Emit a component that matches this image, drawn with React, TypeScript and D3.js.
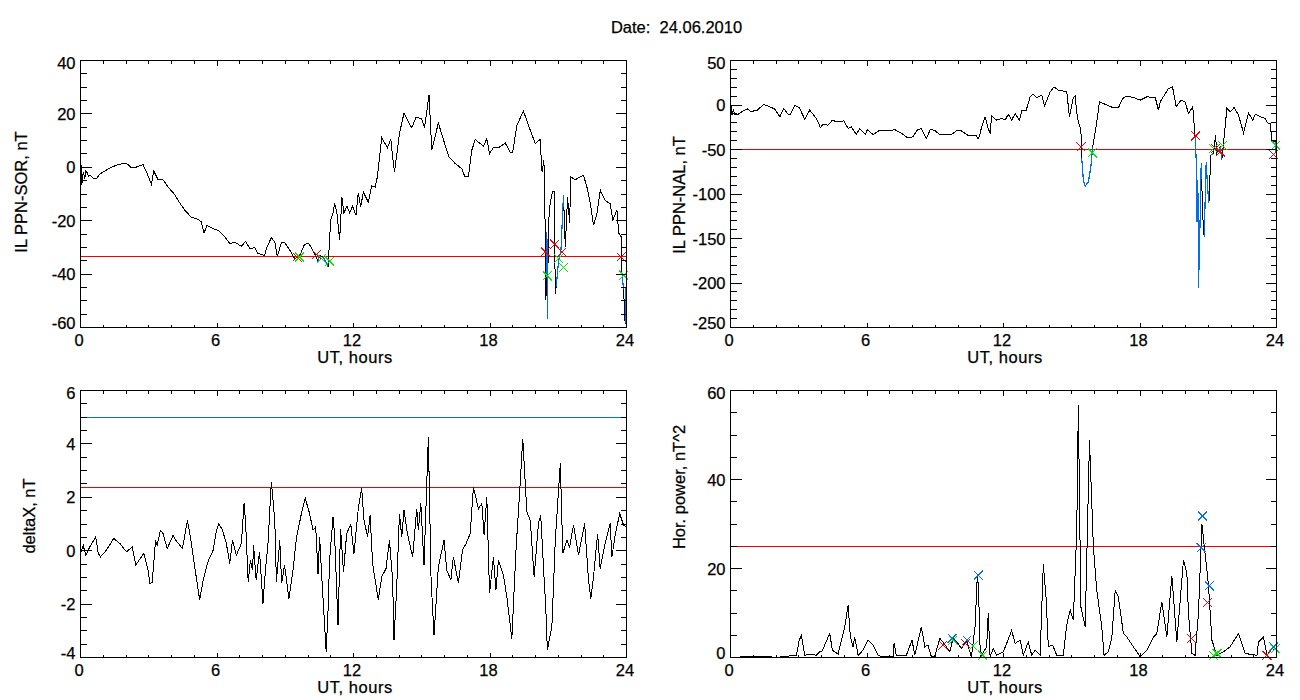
import * as d3 from 'd3'
import { useEffect, useRef } from 'react'

const xTickValues = [0, 6, 12, 18, 24]
const xMinorValues = d3.range(0, 25, 1).filter(h => h % 6 !== 0)

// IL PPN-SOR
const sorT = [0, .02, .04, .07, .12, .19, .23, .29, .35, .41, .56, .7, .85, 1.14, 1.43, 1.73, 2.02, 2.24, 2.46, 2.75, 2.9, 3.12, 3.22, 3.41, 3.63, 3.85, 4.14, 4.36, 4.58, 4.88, 5.1, 5.31, 5.43, 5.56, 5.83, 6.05, 6.34, 6.56, 6.78, 7.07, 7.26, 7.44, 7.66, 7.8, 8.1, 8.17, 8.39, 8.54, 8.65, 8.83, 8.97, 9.2, 9.41, 9.63, 9.85, 10.04, 10.29, 10.44, 10.5, 10.66, 10.88, 11, 11.1, 11.17, 11.27, 11.39, 11.49, 11.58, 11.71, 11.83, 11.96, 12.11, 12.21, 12.32, 12.43, 12.65, 12.8, 12.95, 13.05, 13.24, 13.49, 13.64, 13.72, 13.8, 13.9, 14.02, 14.22, 14.34, 14.56, 14.75, 15, 15.12, 15.32, 15.44, 15.73, 15.95, 16.2, 16.47, 16.76, 16.9, 17.05, 17.2, 17.35, 17.71, 17.86, 17.98, 18.15, 18.42, 18.67, 18.89, 19, 19.18, 19.47, 19.69, 19.99, 20.2, 20.29, 20.37, 20.43, 20.46, 20.5, 20.52, 20.57, 20.62, 20.75, 20.82, 20.87, 20.91, 21.01, 21.12, 21.23, 21.31, 21.41, 21.5, 21.55, 21.75, 22.11, 22.26, 22.41, 22.55, 22.7, 22.85, 23.06, 23.28, 23.4, 23.58, 23.66, 23.77, 23.8, 23.87, 23.94, 24]
const sorV = [-1, -8, 1, -6, -1.7, -4.2, -1.5, -2, -3.5, -3, -4, -4.2, -2.5, -1, .3, 1.2, 1.5, -.2, .1, 1, -1.7, -6.4, -1.4, -4.6, -4.7, -7.4, -10.2, -13.3, -16, -18.8, -19.2, -20.4, -24.6, -21.8, -23, -23.6, -26, -28.6, -28, -29.6, -27.7, -30.5, -30.1, -32.3, -33, -30.5, -26.3, -28, -33.3, -28.3, -28.1, -31, -34.2, -33.3, -28.8, -28.6, -32.3, -35.4, -33, -33.5, -37.2, -19.7, -17, -13.5, -17.2, -27.3, -11.1, -17.2, -14.5, -17, -14.6, -18, -9.6, -14.8, -9.3, -13, -7, -7.4, -3.6, 11.1, 7.4, 10.4, 3.9, -1.7, 4.5, 12.6, 20.3, 18.2, 14.8, 18.8, 18.2, 14.8, 27, 6.4, 16.6, 10.4, 3.9, 1.4, -.5, -3.6, -3.6, 6.4, 10.4, 7.9, 10.7, 5.1, 7.4, 7.6, 9.1, 5.7, 5.7, 15.7, 21.1, 15.7, 8.9, 10.4, -1.7, 2.7, -24.7, -49.8, -24.2, -56.7, -22.3, -14.8, -8.9, -8.9, -47.3, -44.8, -35.4, -31, -10.4, -29.8, -11.1, -21, -3.6, -4.6, -3, -7.4, -13.6, -21.7, -17.4, -8.6, -12.4, -13.6, -19.8, -16, -24.7, -26, -39.8, -45.4, -58.5, -40]
const sorBlue = [[10.4, 10.5], [10.6, 10.9], [20.5, 20.55], [20.91, 21.25], [23.8, 23.87], [23.94, 24]]
const sorRedT = [9.52, 10.37, 20.43, 20.84, 21.16, 23.77]
const sorRedV = [-33.6, -32.6, -31.7, -28.8, -31.7, -33.6]
const sorGreenT = [9.63, 10.59, 10.95, 20.52, 21.01, 21.23, 23.87]
const sorGreenV = [-33.6, -34.2, -35.2, -40.7, -34.2, -37.6, -40.4]

// IL PPN-NAL
const nalT = [0, .01, .03, .06, .12, .19, .34, .56, .73, .88, 1.14, 1.46, 1.65, 1.95, 2.17, 2.34, 2.53, 2.64, 2.83, 3.02, 3.27, 3.48, 3.7, 3.81, 3.95, 4.07, 4.29, 4.48, 4.66, 4.98, 5.17, 5.31, 5.53, 5.68, 5.94, 6, 6.27, 6.56, 7, 7.22, 7.51, 7.77, 8.02, 8.2, 8.39, 8.61, 8.78, 8.97, 9.19, 9.71, 9.96, 10.15, 10.44, 10.81, 10.88, 10.95, 11.04, 11.19, 11.33, 11.41, 11.48, 11.7, 11.92, 12.07, 12.21, 12.36, 12.51, 12.7, 12.8, 12.99, 13.17, 13.31, 13.46, 13.68, 13.8, 14.05, 14.22, 14.41, 14.78, 14.9, 15.07, 15.15, 15.25, 15.4, 15.44, 15.51, 15.59, 15.73, 15.84, 15.92, 16.07, 16.22, 16.39, 16.83, 17.05, 17.24, 17.42, 17.71, 18.01, 18.3, 18.67, 18.81, 18.89, 19.25, 19.43, 19.59, 19.8, 19.98, 20.13, 20.32, 20.42, 20.5, 20.51, 20.56, 20.57, 20.65, 20.69, 20.76, 20.82, 20.91, 20.97, 21.03, 21.11, 21.23, 21.32, 21.38, 21.52, 21.6, 21.67, 21.82, 21.96, 22.14, 22.33, 22.55, 22.77, 22.96, 23.07, 23.29, 23.5, 23.6, 23.72, 23.8, 23.94, 24]
const nalV = [1.7, -11.4, 0, -11.4, -5.8, -10.3, -10.3, -6.6, -4.3, -6.9, -6.6, .6, -1, -4.7, -13.3, -3.9, -10.3, -10.3, -.6, -2.8, -16.3, -5.8, -12.5, -17, -25.3, -21.5, -22.7, -17, -18.9, -17.8, -26.4, -24.5, -33.2, -26.4, -33, -27.7, -33.2, -28.3, -29.2, -27.7, -31.5, -36.6, -35.8, -28.3, -26.4, -37.6, -27.7, -28.3, -33.2, -33.2, -28.3, -29.2, -34.1, -34.1, -38.6, -34.1, -24.5, -13.3, -26.4, -32, -12.5, -17, -15.2, -17, -10.3, -17, -9.6, -17, -6.6, -6.6, 9.2, 12.2, 8.4, 11, -1.3, 14.8, 20.4, 16.7, 14.8, -13.3, 8.4, 9.9, -15.2, -27.5, -60, -84.5, -91.2, -86.3, -69.5, -47, -24.5, 3.6, 1.7, -3.2, -3.2, 7.3, 9.9, 8.4, 5.4, 9.2, 8.4, -5.8, 3.6, 18.5, 20.4, -2, 5.4, 3.6, -9.6, -2, -35.8, -76.9, -131, -98.7, -206, -121, -65, -126, -148, -64, -92, -110.6, -56.4, -54.5, -33.9, -54.5, -47, -61.2, -43.3, -3.9, -7.7, -2.8, -11.4, -31.3, -8.8, -17, -10.3, -13.3, -15.2, -20, -20.8, -39.5, -41.4, -58]
const nalBlue = [[15.44, 15.92], [20.42, 20.51], [20.56, 20.69], [20.82, 21.03], [21.11, 21.25], [21.5, 21.65], [23.94, 24]]
const nalRedT = [15.41, 20.45, 21.33, 21.53, 23.87]
const nalRedV = [-47, -34.6, -48.9, -52.6, -55.6]
const nalGreenT = [15.91, 21.23, 21.63, 23.97]
const nalGreenV = [-53.7, -48.9, -45.5, -45.1]

// deltaX
const dxT = [0, .12, .23, .41, .67, .78, .88, 1.14, 1.46, 1.73, 2.02, 2.27, 2.43, 2.78, 2.97, 3.05, 3.15, 3.3, 3.37, 3.51, 3.63, 3.81, 4.07, 4.19, 4.48, 4.7, 4.83, 5.02, 5.24, 5.39, 5.6, 5.83, 5.97, 6.08, 6.24, 6.41, 6.56, 6.68, 6.85, 7.07, 7.19, 7.26, 7.37, 7.47, 7.56, 7.61, 7.72, 7.87, 8.02, 8.13, 8.24, 8.39, 8.54, 8.61, 8.76, 8.84, 8.97, 9.16, 9.34, 9.49, 9.71, 9.88, 10.07, 10.22, 10.34, 10.44, 10.51, 10.63, 10.8, 10.88, 10.95, 11.1, 11.17, 11.32, 11.43, 11.56, 11.7, 11.88, 12.02, 12.21, 12.36, 12.46, 12.62, 12.73, 12.84, 13.09, 13.24, 13.43, 13.58, 13.72, 13.78, 13.9, 14.02, 14.12, 14.22, 14.37, 14.6, 14.78, 14.85, 14.96, 15.1, 15.29, 15.41, 15.54, 15.73, 15.98, 16.1, 16.28, 16.39, 16.61, 16.79, 16.95, 17.13, 17.27, 17.49, 17.64, 17.74, 17.86, 17.98, 18.15, 18.26, 18.37, 18.59, 18.74, 18.96, 19.15, 19.3, 19.44, 19.62, 19.77, 19.94, 20.13, 20.23, 20.35, 20.45, 20.52, 20.72, 20.87, 21.09, 21.2, 21.38, 21.5, 21.67, 21.89, 22.16, 22.33, 22.43, 22.55, 22.73, 22.84, 23.06, 23.28, 23.36, 23.5, 23.7, 23.87, 24]
const dxV = [-.1, .2, -.17, .14, .52, -.1, -.23, .02, .46, .27, -.04, .14, -.54, -.1, -.73, -1.22, -1.2, .39, .2, .77, .64, .08, .58, .39, .08, 1.14, .52, -.6, -1.85, -1.1, -.42, .02, .71, 1.02, .77, .27, -.48, .39, -.17, .27, 1.77, 1.02, -1.16, -.36, -.73, .2, -1.1, -.04, -1.98, -.73, .27, 2.58, 1.14, -1.16, .39, -1.22, -.54, -1.79, -.73, .46, 1.39, 1.96, 1.39, .77, .89, -.86, .52, -1.35, -3.79, -2.23, -.35, 1.27, .58, -2.79, .83, -.79, .64, .99, -.11, 1.57, 2.33, 1.14, .52, 1.33, -.48, -1.85, -.98, -.67, .39, -1.1, -3.35, -1.35, 1.39, .52, 1.52, .64, -.23, 1.57, .77, 1.77, -.54, 4.27, -1.1, -3.17, -.6, .39, -.73, -1.1, -.23, -1.22, .02, .27, .64, 2.39, 1.57, 1.77, .58, 2.02, -1.6, -.23, -1.48, -.35, -.92, -1.73, -3.29, .14, 2.14, 4.2, 1.46, 1.14, -.98, 1.02, 1.33, -.6, -2.1, -3.72, -2.85, .39, 3.27, -.1, .39, .14, .96, -.17, 1.02, -1.1, -1.8, -.98, .64, -.67, .27, 1.02, -.23, .58, 1.39, .96, .89]
const dxLevels = [5, 2.37]

// Hor. power
const powT = [0, .56, .73, 1, 1.66, 2, 2.52, 2.9, 3.02, 3.12, 3.26, 3.44, 3.78, 3.92, 4.04, 4.17, 4.36, 4.48, 4.73, 4.88, 5.02, 5.17, 5.27, 5.39, 5.46, 5.61, 5.83, 6.05, 6.27, 6.49, 6.7, 7.15, 7.19, 7.29, 7.73, 7.98, 8.1, 8.39, 8.54, 8.68, 8.83, 8.97, 9.2, 9.34, 9.64, 9.78, 10, 10.15, 10.37, 10.59, 10.75, 10.85, 10.9, 10.97, 11.04, 11.26, 11.33, 11.41, 11.55, 11.7, 11.99, 12.14, 12.36, 12.51, 12.73, 12.87, 13.09, 13.24, 13.39, 13.61, 13.75, 13.87, 13.97, 14.16, 14.34, 14.63, 14.78, 14.93, 15.07, 15.22, 15.29, 15.4, 15.59, 15.78, 15.95, 16.1, 16.32, 16.42, 16.61, 16.76, 16.91, 17.05, 17.27, 17.42, 17.71, 18.01, 18.3, 18.59, 18.74, 18.96, 19.18, 19.4, 19.62, 19.91, 20.06, 20.13, 20.28, 20.42, 20.57, 20.72, 20.86, 21.01, 21.16, 21.38, 21.67, 21.96, 22.33, 22.62, 23.14, 23.21, 23.43, 23.58, 23.8, 24]
const powV = [0, .15, .22, .3, .22, 0, .3, .5, 3.9, 5, .5, .75, .5, 1.3, 1.5, 3.15, 5.4, 1.65, .75, 3.9, 6.9, 11.7, 4.6, 2.4, 4.6, .5, 1.65, 3.9, 2.8, .5, .15, .15, 3.15, .5, .5, 3.9, .5, 6.9, 2.4, 2.8, .15, .15, 4.3, 3.5, 1.3, 4.3, 3.15, 2.03, 3.9, .15, 6.9, 18.5, 15.9, 2.4, .5, 2.4, 9.9, .15, 2.03, .5, 1.27, 3.15, 6.1, 3.15, 3.9, .5, 3.5, .5, 1.65, .5, 20.9, 13.6, 2.4, 2.8, .5, .5, 7.3, 10.7, 8.4, 28.6, 56.7, 11.4, 6.9, 48.8, 24.9, 15.1, 6.9, .5, 1.27, 4.3, 15.1, 13.6, 5.4, 4.6, 2.4, .15, 1.65, 4.6, 5.4, 12.5, 4.6, 18.4, 3.5, 21.9, 18.9, 9.9, .9, .5, 9.9, 30.1, 23.4, 16.3, 3.9, .5, 1.27, 2.4, 5.4, .9, .5, 3.5, 4.6, .5, 2.03, 1.65]
const powRedT = [9.34, 10.34, 20.26, 20.97, 23.58]
const powRedV = [2.8, 3.15, 4.3, 12.4, .5]
const powGreenT = [9.78, 10.66, 11.08, 21.23, 21.38, 23.94]
const powGreenV = [3.9, 2.6, .5, .5, .9, 2]
const powBlueT = [9.74, 10.4, 10.89, 20.75, 20.69, 21.05, 23.87]
const powBlueV = [4.3, 3.9, 18.5, 31.8, 24.7, 16.1, 2.4]

const RED = '#f00000'
const GREEN = '#00e600'
const BLUE = '#0070e8'

type Marks = { t: number[]; v: number[]; color: string }
type Panel = {
  left: number; right: number; top: number; bottom: number
  domain: [number, number]; major: number[]; minor: number[]
  label: string; labelX: number; labelY: number
  t: number[]; v: number[]; blue: number[][]
  levels: { v: number; color: string }[]
  marks: Marks[]
}

const panels: Panel[] = [
  {
    left: 80.5, right: 626.5, top: 60.5, bottom: 327.5,
    domain: [-60, 40], major: d3.range(-60, 41, 20), minor: d3.range(-60, 41, 5),
    label: 'IL PPN-SOR, nT', labelX: 27, labelY: 192,
    t: sorT, v: sorV, blue: sorBlue,
    levels: [{ v: -33.5, color: RED }],
    marks: [
      { t: sorRedT, v: sorRedV, color: RED },
      { t: sorGreenT, v: sorGreenV, color: GREEN },
    ],
  },
  {
    left: 730.5, right: 1276.5, top: 60.5, bottom: 327.5,
    domain: [-250, 50], major: d3.range(-250, 51, 50), minor: d3.range(-250, 51, 10),
    label: 'IL PPN-NAL, nT', labelX: 685, labelY: 195,
    t: nalT, v: nalV, blue: nalBlue,
    levels: [{ v: -50.4, color: RED }],
    marks: [
      { t: nalRedT, v: nalRedV, color: RED },
      { t: nalGreenT, v: nalGreenV, color: GREEN },
    ],
  },
  {
    left: 80.5, right: 626.5, top: 390.5, bottom: 657.5,
    domain: [-4, 6], major: d3.range(-4, 7, 2), minor: d3.range(-4, 6.1, .5),
    label: 'deltaX, nT', labelX: 35, labelY: 516,
    t: dxT, v: dxV, blue: [],
    levels: [{ v: dxLevels[0], color: BLUE }, { v: dxLevels[1], color: RED }],
    marks: [],
  },
  {
    left: 730.5, right: 1276.5, top: 390.5, bottom: 657.5,
    domain: [0, 60], major: d3.range(0, 61, 20), minor: d3.range(0, 61, 5),
    label: 'Hor. power, nT^2', labelX: 685, labelY: 487,
    t: powT, v: powV, blue: [],
    levels: [{ v: 24.9, color: RED }],
    marks: [
      { t: powRedT, v: powRedV, color: RED },
      { t: powGreenT, v: powGreenV, color: GREEN },
      { t: powBlueT, v: powBlueV, color: BLUE },
    ],
  },
]

const W = 1300
const H = 700
const FONT = '"Liberation Sans", Arial, sans-serif'
const FONT_SIZE = 16.5

export default function App() {
  const ref = useRef<SVGSVGElement | null>(null)

  useEffect(() => {
    if (!ref.current) return
    const svg = d3.select(ref.current)
    svg.selectAll('*').remove()

    svg.append('text')
      .attr('x', 676.5).attr('y', 33).attr('text-anchor', 'middle')
      .attr('font-size', FONT_SIZE).attr('stroke-width', .25).attr('stroke', '#000')
      .style('white-space', 'pre')
      .text('Date:  24.06.2010')

    for (const p of panels) {
      const x = d3.scaleLinear().domain([0, 24]).range([p.left, p.right])
      const y = d3.scaleLinear().domain(p.domain).range([p.bottom, p.top])
      const g = svg.append('g')

      // levels go under the curve
      for (const l of p.levels) {
        g.append('line')
          .attr('x1', p.left).attr('x2', p.right)
          .attr('y1', Math.floor(y(l.v)) + .5).attr('y2', Math.floor(y(l.v)) + .5)
          .attr('stroke', l.color).attr('shape-rendering', 'crispEdges')
      }

      const pts = p.t.map((t, i) => [t, p.v[i]] as [number, number])
      const line = d3.line<[number, number]>().x(d => x(d[0])).y(d => y(d[1]))
      g.append('path')
        .attr('d', line(pts))
        .attr('fill', 'none').attr('stroke', '#000').attr('stroke-width', 1)
        .attr('shape-rendering', 'crispEdges')

      for (const [a, b] of p.blue) {
        g.append('path')
          .attr('d', line(pts.filter(d => d[0] >= a && d[0] <= b)))
          .attr('fill', 'none').attr('stroke', BLUE).attr('stroke-width', 1.2)
          .attr('shape-rendering', 'crispEdges')
      }

      for (const m of p.marks) {
        g.selectAll(null).data(m.t).enter().append('path')
          .attr('d', 'M-4.5,-4.5L4.5,4.5M-4.5,4.5L4.5,-4.5')
          .attr('transform', (d, i) => `translate(${x(d)},${y(m.v[i])})`)
          .attr('fill', 'none').attr('stroke', m.color)
          .attr('shape-rendering', 'crispEdges')
      }

      // frame and inward ticks on all four sides
      const frame = g.append('g').attr('fill', 'none').attr('stroke', '#000')
        .attr('shape-rendering', 'crispEdges')
      frame.append('rect')
        .attr('x', p.left).attr('y', p.top)
        .attr('width', p.right - p.left).attr('height', p.bottom - p.top)

      const tick = (x1: number, y1: number, x2: number, y2: number) =>
        frame.append('line').attr('x1', x1).attr('y1', y1).attr('x2', x2).attr('y2', y2)

      const labels = g.append('g')
        .attr('font-size', FONT_SIZE).attr('stroke', '#000').attr('stroke-width', .25)

      for (const h of xMinorValues) {
        tick(x(h), p.bottom, x(h), p.bottom - 3)
        tick(x(h), p.top, x(h), p.top + 3)
      }
      for (const h of xTickValues) {
        tick(x(h), p.bottom, x(h), p.bottom - 5)
        tick(x(h), p.top, x(h), p.top + 5)
        labels.append('text')
          .attr('x', x(h) - 1.5).attr('y', p.bottom + 18)
          .attr('text-anchor', 'middle')
          .text(String(h))
      }
      for (const v of p.minor) {
        tick(p.left, y(v), p.left + 6, y(v))
        tick(p.right, y(v), p.right - 6, y(v))
      }
      p.major.forEach((v, i) => {
        tick(p.left, y(v), p.left + 11, y(v))
        tick(p.right, y(v), p.right - 11, y(v))
        // first and last labels are pushed inside the frame height
        const shift = i === 0 ? -5 : i === p.major.length - 1 ? 2.5 : 0
        labels.append('text')
          .attr('x', p.left - 5).attr('y', y(v) + 6 + shift)
          .attr('text-anchor', 'end')
          .text(String(v))
      })

      labels.append('text')
        .attr('x', (p.left + p.right) / 2 + 1.5).attr('y', p.bottom + 35)
        .attr('text-anchor', 'middle').attr('letter-spacing', .55)
        .text('UT, hours')
      labels.append('text')
        .attr('transform', `translate(${p.labelX},${p.labelY}) rotate(-90)`)
        .attr('text-anchor', 'middle')
        .text(p.label)
    }
  }, [])

  return (
    <svg
      ref={ref}
      width={W}
      height={H}
      style={{ position: 'absolute', left: 0, top: 0, background: '#fff', fontFamily: FONT }}
    />
  )
}
